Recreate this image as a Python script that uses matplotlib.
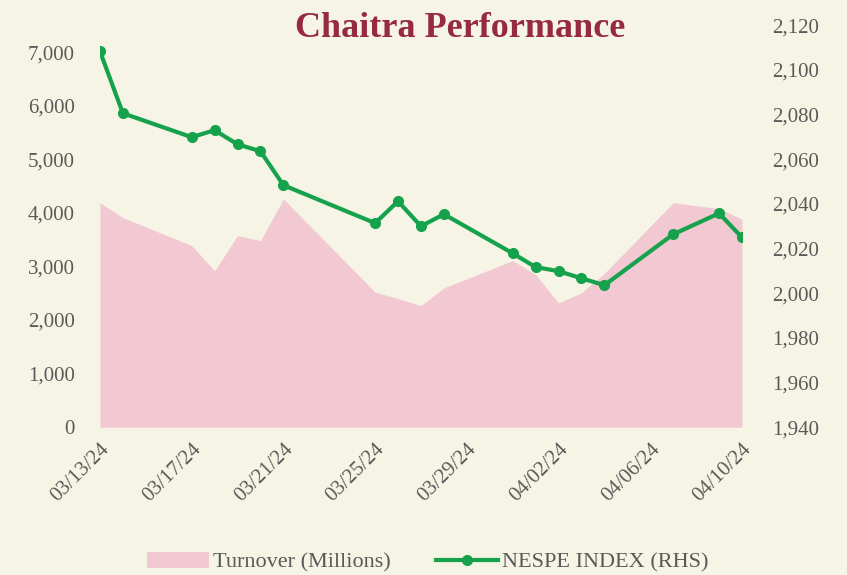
import matplotlib
matplotlib.use("Agg")
import matplotlib.pyplot as plt
import matplotlib.dates as mdates
import pandas as pd

plt.rcParams['font.family'] = ['Liberation Serif', 'DejaVu Serif']

fechas = ["2024-03-13", "2024-03-14", "2024-03-17", "2024-03-18", "2024-03-19",
          "2024-03-20", "2024-03-21", "2024-03-25", "2024-03-26", "2024-03-27",
          "2024-03-28", "2024-03-31", "2024-04-01", "2024-04-02", "2024-04-03",
          "2024-04-04", "2024-04-07", "2024-04-09", "2024-04-10"]
turnover = [4190, 3910, 3390, 2920, 3575, 3480, 4260, 2520, 2400, 2270,
            2600, 3110, 2850, 2320, 2510, 2870, 4190, 4080, 3880]
nepse = [2108.4, 2080.6, 2069.9, 2073.0, 2066.7, 2063.6, 2048.4, 2031.4, 2041.2, 2030.0,
         2035.4, 2017.9, 2011.7, 2009.9, 2006.7, 2003.6, 2026.4, 2035.8, 2025.0]

fechas = pd.to_datetime(fechas)
ticks_x = pd.date_range("2024-03-13", "2024-04-10", freq="4D")

fondo = '#f6f5e5'
rosa = '#f2c8d2'
verde = '#16a24c'
gris = '#595959'

fig = plt.figure(figsize=(8.47, 5.75), dpi=100, facecolor=fondo)
ax1 = fig.add_axes([0.118, 0.257, 0.758, 0.699])
ax1.set_facecolor('none')

ax1.fill_between(fechas, turnover, color=rosa, lw=0, label='Turnover (Millions)')
ax1.set_ylim(0, 7500)
ax1.set_yticks(range(0, 7001, 1000))
ax1.yaxis.set_major_formatter(matplotlib.ticker.StrMethodFormatter('{x:,.0f}'))
ax1.set_xlim(fechas[0], fechas[-1])
ax1.set_xticks(ticks_x)
ax1.xaxis.set_major_formatter(mdates.DateFormatter('%m/%d/%y'))

ax2 = ax1.twinx()
ax2.plot(fechas, nepse, color=verde, lw=3, marker='o', ms=7, label='NESPE INDEX (RHS)')
ax2.set_ylim(1940, 2120)
ax2.set_yticks(range(1940, 2121, 20))
ax2.yaxis.set_major_formatter(matplotlib.ticker.StrMethodFormatter('{x:,.0f}'))

for ax in (ax1, ax2):
    for s in ax.spines.values():
        s.set_visible(False)
    ax.tick_params(length=0, labelsize=15, colors=gris)
ax1.tick_params(axis='y', pad=18)
ax1.tick_params(axis='x', pad=9)
ax2.tick_params(axis='y', pad=22)
for lbl in ax1.get_xticklabels():
    lbl.set_rotation(45)
    lbl.set_ha('right')
    lbl.set_rotation_mode('anchor')

fig.text(0.543, 0.95, 'Chaitra Performance', ha='center', va='center',
         fontsize=26, fontweight='bold', color='#962a3e')

h1, l1 = ax1.get_legend_handles_labels()
h2, l2 = ax2.get_legend_handles_labels()
fig.legend(h1 + h2, l1 + l2, loc='center', bbox_to_anchor=(0.505, 0.022), ncol=2,
           frameon=False, fontsize=16, labelcolor=gris, handlelength=2.8,
           columnspacing=2.0, handletextpad=0.2)

fig.savefig('out.png', dpi=100, facecolor=fondo)
